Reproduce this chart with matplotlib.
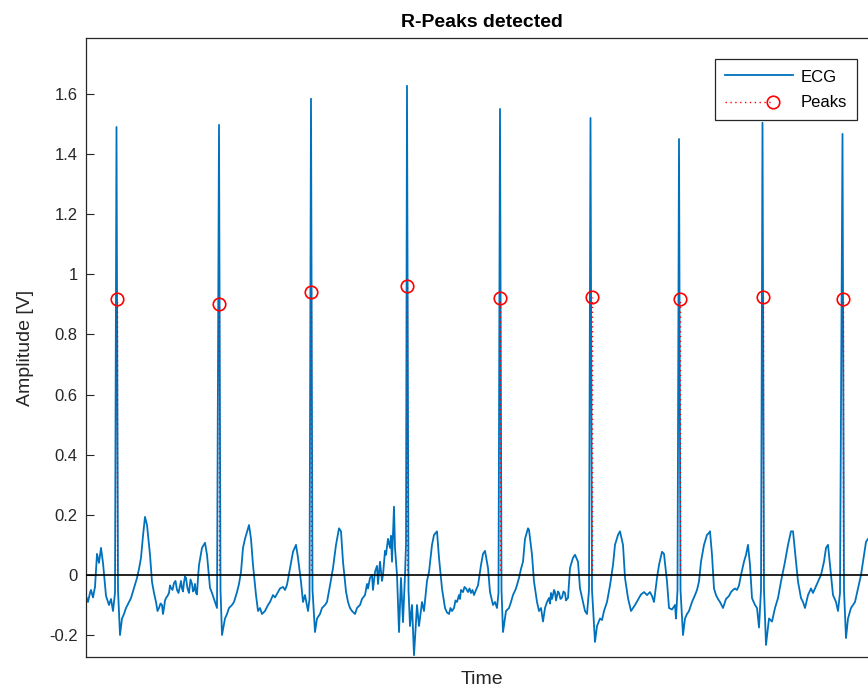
"""
R-peak detection plot: ECG trace with detected peaks shown as stems.
Values read off the reference picture (time in ms, amplitude in mV).
"""

import numpy as np
import matplotlib
matplotlib.use("Agg")
import matplotlib.pyplot as plt
from matplotlib.lines import Line2D
from matplotlib.legend_handler import HandlerLine2D
from matplotlib.ticker import FuncFormatter

plt.rcParams["font.family"] = ["Liberation Sans", "DejaVu Sans"]

# ── Data ──────────────────────────────────────────────────────────────────────
# ECG trace, split per beat (time in ms, amplitude in mV)
beat1_ms = [0, 16, 32, 40, 56, 72, 88, 104, 120, 136, 160, 184, 200, 216, 232, 244, 256, 272]
beat1_mv = [-70, -90, -60, -50, -75, -40, 70, 40, 90, 40, -70, -100, -80, -120, -60, 1490, -50, -200]

beat2_ms = [288, 304, 320, 344, 360, 384, 408, 424, 440, 456, 472, 488, 512, 528, 544, 560, 572,
            584, 596, 608, 616, 624, 632, 640, 652, 664, 672, 680, 692, 704, 716, 728, 740, 752,
            760, 768, 776, 784, 792, 800, 812, 824, 836, 848, 856, 864, 872, 880, 888, 896, 904,
            928, 952, 968, 992, 1008, 1032, 1048, 1064, 1076, 1088]
beat2_mv = [-145, -130, -110, -90, -77, -43, -10, 20, 57, 130, 193, 166, 67, -23, -60, -90, -120,
            -110, -95, -100, -130, -110, -85, -77, -70, -60, -35, -43, -50, -27, -20, -50, -60, -35,
            -20, -45, -55, -25, -5, -10, -45, -60, -15, -30, -55, -50, -30, -60, -65, -10, 33,
            90, 107, 67, -43, -60, -90, -110, 1497, -50, -200]

beat3_ms = [1112, 1128, 1144, 1168, 1184, 1208, 1224, 1240, 1256, 1272, 1288, 1304, 1320, 1336,
            1360, 1376, 1392, 1408, 1432, 1456, 1472, 1496, 1512, 1536, 1552, 1576, 1592, 1608,
            1632, 1656, 1680, 1696, 1720, 1736, 1752, 1776, 1788, 1800, 1812, 1832]
beat3_mv = [-145, -130, -110, -100, -90, -57, -30, 10, 90, 120, 143, 166, 120, 33,
            -67, -120, -110, -130, -120, -100, -90, -67, -75, -57, -45, -40, -50, -33,
            23, 77, 100, 57, -23, -90, -67, -120, -80, 1584, -50, -190]

beat4_ms = [1848, 1872, 1888, 1912, 1928, 1952, 1976, 2000, 2024, 2040, 2056, 2080, 2096, 2112,
            2128, 2152, 2168, 2192, 2208, 2232, 2248, 2256, 2272, 2288, 2296, 2312, 2328, 2336,
            2352, 2368, 2376, 2392, 2400, 2416, 2432, 2440, 2448, 2464, 2472, 2488, 2504, 2520,
            2536, 2552, 2560, 2568, 2580, 2592]
beat4_mv = [-145, -130, -110, -100, -90, -35, 23, 100, 155, 145, 44, -55, -90, -110,
            -120, -130, -110, -100, -80, -67, -30, -45, -10, 0, -50, 10, 30, -30,
            44, -20, 0, 80, 67, 120, 90, 130, 44, 227, 90, 0, -190, -10,
            -157, 0, 100, 1627, -50, -170]

beat5_ms = [2608, 2624, 2648, 2664, 2688, 2704, 2728, 2744, 2768, 2784, 2808, 2824, 2848, 2872,
            2888, 2904, 2916, 2928, 2944, 2956, 2968, 2984, 2992, 3000, 3016, 3028, 3040, 3056,
            3068, 3080, 3092, 3104, 3120, 3136, 3160, 3176, 3192, 3216, 3232, 3256, 3272, 3288,
            3300, 3312, 3324, 3336]
beat5_mv = [-100, -267, -100, -170, -90, -120, -20, 10, 100, 133, 145, 57, -45, -110,
            -125, -130, -110, -120, -110, -85, -90, -67, -80, -50, -57, -40, -45, -57,
            -45, -60, -50, -67, -50, -35, 33, 70, 80, 23, -57, -100, -90, -110,
            -60, 1550, -50, -190]

beat6_ms = [3360, 3384, 3400, 3416, 3440, 3464, 3480, 3496, 3512, 3536, 3544, 3568, 3584, 3608,
            3624, 3640, 3656, 3672, 3688, 3704, 3712, 3720, 3728, 3736, 3744, 3752, 3760, 3768,
            3776, 3784, 3796, 3808, 3820, 3832, 3840, 3848, 3856, 3872, 3896, 3912, 3936, 3952,
            3976, 3992, 4008, 4024, 4036, 4048, 4072]
beat6_mv = [-120, -110, -90, -67, -45, -10, 20, 44, 120, 155, 150, 67, -22, -90,
            -120, -110, -155, -110, -90, -77, -95, -60, -80, -67, -50, -57, -85, -70,
            -55, -60, -80, -75, -55, -60, -85, -80, -77, 23, 57, 67, 44, -45,
            -90, -120, -130, -50, 1520, -50, -223]

beat7_ms = [4088, 4112, 4128, 4144, 4168, 4192, 4216, 4232, 4256, 4272, 4296, 4312, 4336, 4360,
            4376, 4392, 4424, 4440, 4464, 4488, 4512, 4528, 4544, 4568, 4584, 4608, 4624, 4648,
            4664, 4688, 4712, 4720, 4732, 4744, 4756, 4776]
beat7_mv = [-170, -145, -150, -120, -90, -35, 33, 100, 133, 145, 100, -10, -77, -120,
            -110, -100, -77, -65, -57, -67, -57, -70, -90, -10, 33, 77, 70, -22,
            -110, -115, -100, -145, -50, 1450, -50, -200]

beat8_ms = [4792, 4808, 4824, 4848, 4872, 4888, 4904, 4920, 4944, 4968, 4984, 4992, 5008, 5024,
            5040, 5056, 5072, 5096, 5120, 5144, 5160, 5176, 5192, 5208, 5224, 5240, 5264, 5280,
            5296, 5312, 5328, 5352, 5368, 5384, 5400, 5412, 5424, 5440]
beat8_mv = [-145, -130, -120, -90, -67, -50, -22, 44, 100, 133, 140, 145, 67, -45,
            -67, -80, -90, -110, -80, -70, -57, -50, -45, -50, -35, 0, 44, 67,
            100, 33, -77, -100, -110, -175, -50, 1504, -50, -233]

beat9_ms = [5464, 5488, 5512, 5536, 5560, 5592, 5616, 5640, 5656, 5672, 5696, 5720, 5736, 5752,
            5776, 5800, 5816, 5832, 5856, 5880, 5904, 5920, 5936, 5952, 5976, 6000, 6016, 6032,
            6052, 6064, 6080, 6096, 6120, 6136, 6152, 6176, 6200, 6224, 6240, 6256]
beat9_mv = [-145, -155, -110, -77, -22, 44, 100, 145, 145, 77, -22, -77, -90, -110,
            -67, -45, -60, -45, -22, 0, 44, 90, 100, 33, -67, -90, -120, -60,
            1467, -50, -210, -145, -110, -100, -90, -45, 0, 67, 110, 120]

# Detected R-peaks (time in ms, amplitude in V)
peak_ms = [248, 1064, 1800, 2568, 3312, 4048, 4752, 5416, 6056]
peak_v  = [0.918, 0.900, 0.940, 0.960, 0.920, 0.925, 0.918, 0.925, 0.918]

T_END_MS = 6336

ecg_t = np.concatenate([beat1_ms, beat2_ms, beat3_ms, beat4_ms, beat5_ms,
                        beat6_ms, beat7_ms, beat8_ms, beat9_ms]) / 1000.0
ecg_v = np.concatenate([beat1_mv, beat2_mv, beat3_mv, beat4_mv, beat5_mv,
                        beat6_mv, beat7_mv, beat8_mv, beat9_mv]) / 1000.0
pk_t = np.array(peak_ms) / 1000.0
pk_v = np.array(peak_v)

ECG_BLUE = "#0072BD"
AX_GREY  = "#262626"


class StemHandler(HandlerLine2D):
    """Legend icon like MATLAB's stem: dotted line ending in a circle."""
    def create_artists(self, legend, orig_handle, xdescent, ydescent,
                       width, height, fontsize, trans):
        y  = height / 2.0 - ydescent
        xm = -xdescent + width * 0.7
        line = Line2D([-xdescent, xm], [y, y], color="red", lw=1.0,
                      linestyle=(0, (1, 2.5)))
        mark = Line2D([xm], [y], marker="o", ms=9, mfc="none", mec="red",
                      mew=1.2, linestyle="none")
        line.set_transform(trans)
        mark.set_transform(trans)
        return [line, mark]


# ── Plot ──────────────────────────────────────────────────────────────────────
fig = plt.figure(figsize=(8.68, 6.93), dpi=100)
ax = fig.add_axes([86 / 868, 36 / 693, (878 - 86) / 868, (657 - 38) / 693])

ax.plot(ecg_t, ecg_v, color=ECG_BLUE, lw=1.3, zorder=2)
ax.vlines(pk_t, 0, pk_v, colors="red", lw=1.0, linestyles=[(0, (1, 2.5))], zorder=3)
ax.plot(pk_t, pk_v, "o", ms=9, mfc="none", mec="red", mew=1.2, zorder=4)
ax.axhline(0, color="black", lw=1.2, zorder=3)

ax.set_xlim(0, T_END_MS / 1000.0)
ax.set_ylim(-0.273, 1.786)
ax.set_yticks(np.arange(-0.2, 1.61, 0.2))
ax.yaxis.set_major_formatter(FuncFormatter(lambda v, _: f"{round(v, 1):g}"))
ax.set_xticks([])
ax.tick_params(axis="y", direction="in", length=6, width=0.8,
               labelsize=12, colors=AX_GREY, pad=6)
for sp in ax.spines.values():
    sp.set_color(AX_GREY)
    sp.set_linewidth(0.9)

ax.set_title("R-Peaks detected", fontsize=14, fontweight="bold", pad=8)
ax.set_ylabel("Amplitude [V]", fontsize=14, color=AX_GREY, labelpad=11)
ax.set_xlabel("Time", fontsize=14, color=AX_GREY, labelpad=10)

ecg_handle  = Line2D([], [], color=ECG_BLUE, lw=1.3)
peak_handle = Line2D([], [], color="red")
leg = ax.legend([ecg_handle, peak_handle], ["ECG", "Peaks"],
                handler_map={peak_handle: StemHandler()},
                loc="upper right", bbox_to_anchor=(857 / 868, 1 - 59 / 693),
                bbox_transform=fig.transFigure, borderaxespad=0,
                fontsize=12, handlelength=4.1, handleheight=0.9,
                handletextpad=0.45, borderpad=0.6, labelspacing=0.6,
                fancybox=False, framealpha=1, edgecolor=AX_GREY)
leg.get_frame().set_linewidth(0.9)

fig.savefig("out.png", dpi=100)
